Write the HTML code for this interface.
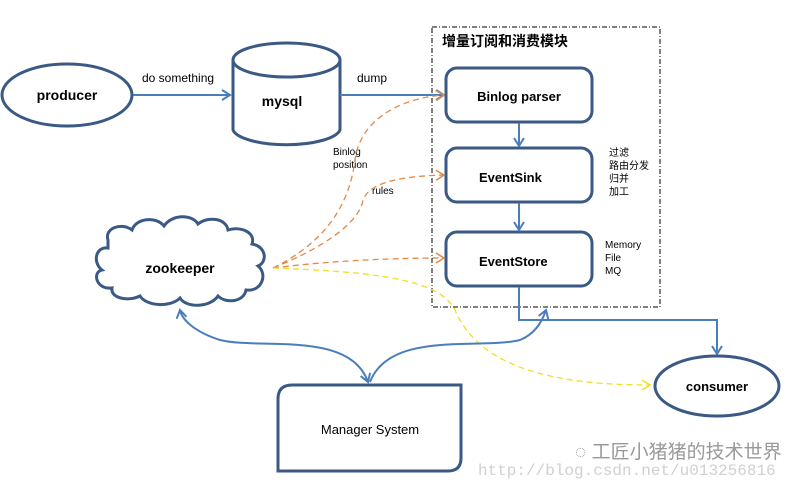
<!DOCTYPE html>
<html><head><meta charset="utf-8"><style>
html,body{margin:0;padding:0;background:#fff;}
svg{display:block;font-family:"Liberation Sans","Noto Sans CJK SC",sans-serif;}
</style></head><body>
<svg width="804" height="488" viewBox="0 0 804 488" xmlns="http://www.w3.org/2000/svg">
<defs>
<marker id="ab" markerWidth="12" markerHeight="12" refX="9" refY="6" orient="auto-start-reverse" markerUnits="userSpaceOnUse"><path d="M1,1 L9,6 L1,11" fill="none" stroke="#4a7ebb" stroke-width="2"/></marker>
<marker id="ao" markerWidth="12" markerHeight="12" refX="9" refY="6" orient="auto" markerUnits="userSpaceOnUse"><path d="M1,1 L9,6 L1,11" fill="none" stroke="#e08a4a" stroke-width="1.5"/></marker>
<marker id="ay" markerWidth="12" markerHeight="12" refX="9" refY="6" orient="auto" markerUnits="userSpaceOnUse"><path d="M1,1 L9,6 L1,11" fill="none" stroke="#f0e020" stroke-width="1.5"/></marker>
</defs>
<rect x="432" y="27" width="228" height="280" fill="none" stroke="#000" stroke-width="1" stroke-dasharray="5,2,1,2"/>
<text x="442" y="46" font-size="14" font-weight="bold">增量订阅和消费模块</text>
<ellipse cx="67" cy="95" rx="65" ry="31" fill="#fff" stroke="#3a5a85" stroke-width="3"/>
<text x="67" y="100" font-size="14" font-weight="bold" text-anchor="middle">producer</text>
<line x1="133" y1="95" x2="230" y2="95" stroke="#4a7ebb" stroke-width="2" marker-end="url(#ab)"/>
<text x="142" y="82" font-size="12">do something</text>
<path d="M233,60 L233,130 A54,17 0 0 0 340,130 L340,60" fill="#fff" stroke="#3a5a85" stroke-width="3"/>
<ellipse cx="286.5" cy="60" rx="53.5" ry="17" fill="#fff" stroke="#3a5a85" stroke-width="3"/>
<text x="282" y="106" font-size="14" font-weight="bold" text-anchor="middle">mysql</text>
<line x1="340" y1="95" x2="444" y2="95" stroke="#4a7ebb" stroke-width="2" marker-end="url(#ab)"/>
<text x="357" y="82" font-size="12">dump</text>
<rect x="446" y="68" width="146" height="54" rx="11" fill="#fff" stroke="#3a5a85" stroke-width="3"/>
<text x="519" y="101" font-size="13" font-weight="bold" text-anchor="middle">Binlog parser</text>
<rect x="446" y="148" width="146" height="54" rx="11" fill="#fff" stroke="#3a5a85" stroke-width="3"/>
<text x="479" y="182" font-size="13" font-weight="bold">EventSink</text>
<rect x="446" y="232" width="146" height="54" rx="11" fill="#fff" stroke="#3a5a85" stroke-width="3"/>
<text x="479" y="266" font-size="13" font-weight="bold">EventStore</text>
<line x1="519" y1="123" x2="519" y2="146" stroke="#4a7ebb" stroke-width="2" marker-end="url(#ab)"/>
<line x1="519" y1="203" x2="519" y2="230" stroke="#4a7ebb" stroke-width="2" marker-end="url(#ab)"/>
<g font-size="10">
<text x="609" y="156">过滤</text><text x="609" y="169">路由分发</text><text x="609" y="182">归并</text><text x="609" y="195">加工</text>
<text x="605" y="248">Memory</text><text x="605" y="261">File</text><text x="605" y="274">MQ</text>
<text x="333" y="155">Binlog</text><text x="333" y="168">position</text><text x="372" y="194">rules</text>
</g>
<polyline points="519,287 519,320 717,320 717,354" fill="none" stroke="#4a7ebb" stroke-width="2" marker-end="url(#ab)"/>
<path d="M108,240 C104,228 122,222 132,230 C136,218 156,216 164,226 C172,214 192,214 198,224 C208,216 226,218 228,230 C240,226 256,232 252,244 C266,246 268,262 258,266 C268,274 262,292 246,290 C244,302 226,304 218,296 C210,308 186,308 180,298 C170,308 146,306 140,296 C128,302 110,298 112,288 C96,290 92,272 102,270 C92,262 96,246 108,248 Z" fill="#fff" stroke="#3a5a85" stroke-width="3"/>
<text x="180" y="273" font-size="14" font-weight="bold" text-anchor="middle">zookeeper</text>
<g fill="none" stroke="#e08a4a" stroke-width="1.3" stroke-dasharray="6,4">
<path d="M273,268 C330,240 350,200 355,160 C360,120 400,98 444,95" marker-end="url(#ao)"/>
<path d="M273,268 C330,245 360,220 363,200 C370,180 410,176 444,175" marker-end="url(#ao)"/>
<path d="M273,268 C320,262 380,258 444,258" marker-end="url(#ao)"/>
</g>
<path d="M273,268 C380,272 440,280 455,310 C480,370 560,385 650,385" fill="none" stroke="#f0e020" stroke-width="1.3" stroke-dasharray="6,4" marker-end="url(#ay)"/>
<path d="M368,382 C350,330 260,350 220,340 C195,332 182,320 180,310" fill="none" stroke="#4a7ebb" stroke-width="2" marker-end="url(#ab)" marker-start="url(#ab)"/>
<path d="M370,382 C390,330 480,350 520,340 C535,334 542,322 546,310" fill="none" stroke="#4a7ebb" stroke-width="2" marker-end="url(#ab)"/>
<path d="M292,385 L461,385 L461,458 Q461,471 448,471 L278,471 L278,399 Q278,385 292,385 Z" fill="#fff" stroke="#3a5a85" stroke-width="3"/>
<text x="370" y="434" font-size="13" text-anchor="middle">Manager System</text>
<ellipse cx="717" cy="386" rx="62" ry="30" fill="#fff" stroke="#3a5a85" stroke-width="3"/>
<text x="717" y="391" font-size="13" font-weight="bold" text-anchor="middle">consumer</text>
<text x="575" y="458" font-size="19" fill="#999">◌ 工匠小猪猪的技术世界</text>
<text x="478" y="475" font-size="16" fill="#d0d0d0" font-family="Liberation Mono,monospace">http://blog.csdn.net/u013256816</text>
</svg>
</body></html>
